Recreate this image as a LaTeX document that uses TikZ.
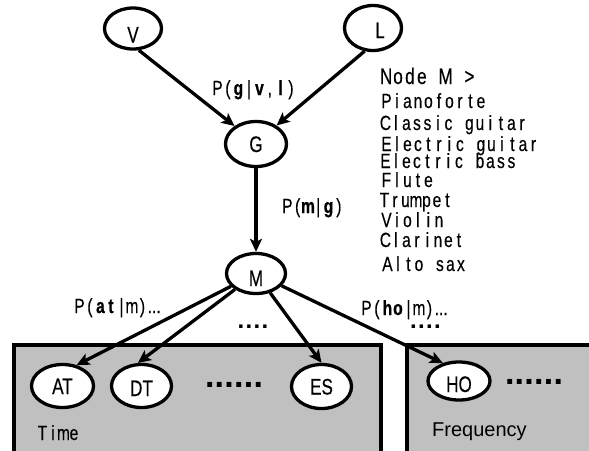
\documentclass[tikz,border=0pt]{standalone}
\usepackage{fontspec}
\usetikzlibrary{arrows.meta,shapes.geometric}
\newfontfamily\gothic[FakeStretch=0.76, UprightFeatures={FakeBold=0.3}, BoldFeatures={FakeBold=0.8}]{Liberation Sans}
\newfontfamily\plainsans{Liberation Sans}
\definecolor{boxgray}{HTML}{C0C0C0}
% set every character in a fixed-width cell (monospaced look)
\makeatletter
\newcommand\cells[2]{\@tfor\cell@item:=#2\do{\makebox[#1]{\cell@item}}}
\makeatother
\tikzset{
  var/.style={ellipse, draw, line width=3.3pt, fill=white, inner sep=0pt,
    font=\gothic\fontsize{22.5}{22.5}\selectfont, text height=16pt, text depth=0pt},
  link/.style={line width=3.3pt, -{Stealth[length=13pt,width=12pt,inset=3pt]}},
  group/.style={draw, line width=4pt, fill=boxgray},
  txt/.style={inner sep=0pt, anchor=base west, font=\gothic\fontsize{20.5}{20.5}\selectfont},
  bigdots/.style={inner sep=0pt, font=\plainsans\bfseries\fontsize{34}{34}\selectfont},
  smalldots/.style={inner sep=0pt, font=\plainsans\bfseries\fontsize{24}{24}\selectfont},
}
\begin{document}
\begin{tikzpicture}[x=1pt,y=-1pt]
\useasboundingbox (0,0) rectangle (589,450);
\clip (0,0) rectangle (589,450);

% feature groups
\draw[group] (13.5,345) rectangle (381,470);
\draw[group] (407,345) rectangle (610,470);

% variables
\node[var, minimum width=57pt, minimum height=41pt, text height=28pt] (V) at (133,28.5) {V};
\node[var, minimum width=57pt, minimum height=45pt, text height=20pt] (L) at (373,28) {\hspace*{14pt}L};
\node[var, minimum width=61pt, minimum height=45pt] (G) at (256,144) {G};
\node[var, minimum width=59pt, minimum height=40pt, text height=25pt] (M) at (256,273.5) {M};
\node[var, minimum width=62pt, minimum height=43pt] (AT) at (62.5,386) {AT};
\node[var, minimum width=60pt, minimum height=43pt, text height=20pt] (DT) at (141.5,386) {DT};
\node[var, minimum width=60pt, minimum height=44pt] (ES) at (321.5,386.5) {ES};
\node[var, minimum width=62pt, minimum height=38pt, text height=22pt] (HO) at (459,381) {HO};

% dependencies
\draw[link] (V.-75) -- (G.140);
\draw[link] (L.-110) -- (G.42);
\draw[link] (G) -- (M);
\draw[link] (M) -- (AT.56);
\draw[link] (M) -- (DT.99);
\draw[link] (M) -- (ES.90);
\draw[link] (M) -- (HO.132);

% probabilities
\node[txt] (pgvl) at (212,95) {\cells{10.5pt}{P({\bfseries g}|{\bfseries v},{\bfseries l})}};
\node[txt] (pmg) at (282,213) {\cells{10.3pt}{P({\bfseries m}|{\bfseries g})}};
\node[txt] (patm) at (74,313) {\cells{10.5pt}{P({\bfseries a}{\bfseries t}|m)}...};
\node[txt] (phom) at (361,315) {\cells{10.5pt}{P({\bfseries h}{\bfseries o}|m)}...};

% ellipses standing for further variables
\node[smalldots] (dm1) at (253,327) {\cells{8pt}{....}};
\node[smalldots] (dm2) at (425.5,327) {\cells{8pt}{....}};
\node[bigdots] (dt1) at (234,385) {\cells{9.7pt}{......}};
\node[bigdots] (dt2) at (534,382) {\cells{9.7pt}{......}};

% group captions
\node[txt] (time) at (37,440) {\cells{10.5pt}{Time}};
\node[txt, font=\plainsans\fontsize{20}{20}\selectfont] (freq) at (432,436) {Frequency};

% states of node M
\node[txt, font=\gothic\fontsize{22.5}{22.5}\selectfont] (mhead) at (380,84) {\cells{11.9pt}{Node\ M\ >}};
\node[txt] (s1) at (381,108) {\cells{10.5pt}{Pianoforte}};
\node[txt] (s2) at (380,130) {\cells{10.5pt}{Classic\ guitar}};
\node[txt] (s3) at (381,151) {\cells{10.5pt}{Electric\ guitar}};
\node[txt] (s4) at (380,168) {\cells{10.5pt}{Electric\ bass}};
\node[txt] (s5) at (381,187) {\cells{10.5pt}{Flute}};
\node[txt] (s6) at (379,207) {\cells{10.5pt}{Trumpet}};
\node[txt] (s7) at (381,227) {\cells{10.5pt}{Violin}};
\node[txt] (s8) at (380,247) {\cells{10.5pt}{Clarinet}};
\node[txt] (s9) at (382,271) {\cells{10.5pt}{Alto\ sax}};
\end{tikzpicture}
\end{document}
